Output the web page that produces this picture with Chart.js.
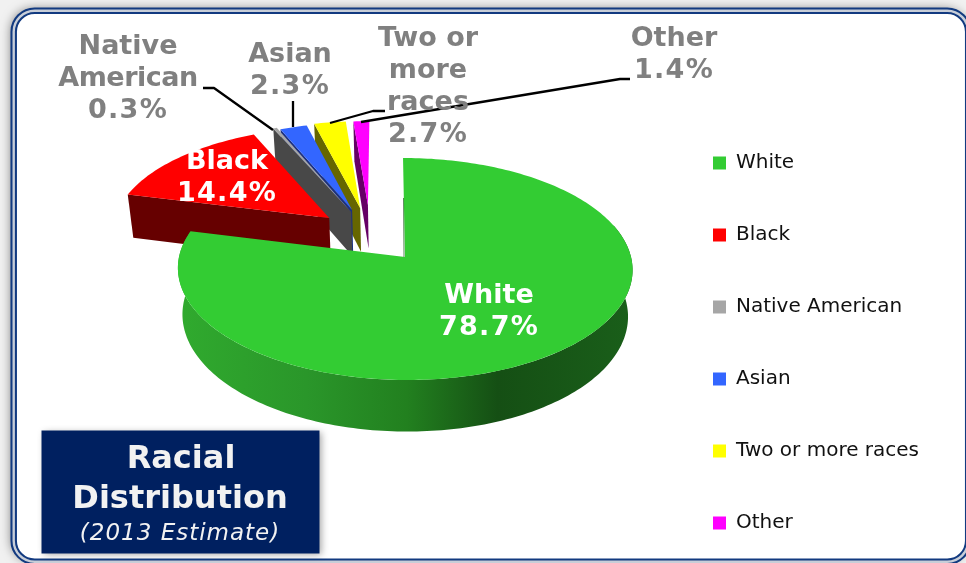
<!DOCTYPE html>
<html>
<head>
<meta charset="utf-8">
<style>html,body{margin:0;padding:0;background:#fff;overflow:hidden}canvas{display:block}</style>
<script src="https://cdn.jsdelivr.net/npm/chart.js@4"></script>
</head>
<body>
<div style="width:966px;height:563px"><canvas id="c" width="966" height="563"></canvas></div>
<script>
const categories = ['White','Black','Native American','Asian','Two or more races','Other'];
const values = [78.7,14.4,0.3,2.3,2.7,1.4];
const titleLines = ['Racial','Distribution'];
const subtitle = '(2013 Estimate)';

const topColors  = ['#33cc33','#ff0000','#a6a6a6','#3366ff','#ffff00','#ff00ff'];
const wallColors = ['#1f7f1f','#660000','#484848','#1b2f80','#666600','#660066'];
const explodeU = [0,-0.345,-0.245,-0.241,-0.204,-0.168];
const explodeV = [0,-0.370,-0.429,-0.449,-0.469,-0.4996];
const radiusK  = [1,0.985,1.0,0.96,0.96,0.93];

const P = {cx:405,cy:257,rx:226,ry:109.7,k:0.108,depth:46,shear:0.02,shrink:0.98};
function project(U,V,low){
  const w = 1-P.k*V;
  let x = P.rx*U/w, y = P.ry*V/w;
  x += P.shear*y;
  if(low){ x*=P.shrink; y+=P.depth/w; }
  return [P.cx+x,P.cy+y];
}
function rimPts(i,a0,a1,low){
  const pts=[], n=Math.max(2,Math.ceil(Math.abs(a1-a0)/0.02));
  for(let j=0;j<=n;j++){
    const a=a0+(a1-a0)*j/n;
    pts.push(project(explodeU[i]+radiusK[i]*Math.cos(a),explodeV[i]+radiusK[i]*Math.sin(a),low));
  }
  return pts;
}
function poly(ctx,pts,fill){
  ctx.beginPath();
  pts.forEach((p,i)=>i?ctx.lineTo(p[0],p[1]):ctx.moveTo(p[0],p[1]));
  ctx.closePath();
  ctx.fillStyle=fill; ctx.fill();
}
function roundRectPath(ctx,x,y,w,h,r){ctx.beginPath();ctx.roundRect(x,y,w,h,r);}

const pie3d = {
  id:'pie3d',
  beforeDraw(chart){
    const ctx=chart.ctx;
    ctx.save();
    ctx.fillStyle='#f1f1f1';ctx.fillRect(0,0,966,563);
    ctx.shadowColor='rgba(0,0,0,0.55)';ctx.shadowBlur=11;ctx.shadowOffsetX=-2;ctx.shadowOffsetY=-1;
    roundRectPath(ctx,13.7,10.7,954.5,551,21);ctx.fillStyle='#fff';ctx.fill();
    ctx.shadowColor='transparent';
    ctx.strokeStyle='#123a80';ctx.lineWidth=6.5;ctx.stroke();
    ctx.strokeStyle='#c8ced8';ctx.lineWidth=2.4;ctx.stroke();
    ctx.restore();
  },
  afterLayout(chart){
    const l=chart.legend;
    const pad=l.options.labels.padding;
    l.left=713-pad;l.right=l.left+l.width;
    l.top=153-pad;l.bottom=900;
    l.height=l.bottom-l.top;
  },
  beforeDatasetsDraw(chart){
    const ctx=chart.ctx, arcs=chart.getDatasetMeta(0).data;
    ctx.save();
    for(let i=arcs.length-1;i>=1;i--){
      const a=arcs[i], apexT=project(explodeU[i],explodeV[i],false), apexB=project(explodeU[i],explodeV[i],true);
      const rimT=rimPts(i,a.startAngle,a.startAngle,false)[0], rimB=rimPts(i,a.startAngle,a.startAngle,true)[0];
      poly(ctx,[apexT,rimT,rimB,apexB],wallColors[i]);
      poly(ctx,[apexT].concat(rimPts(i,a.startAngle,a.endAngle,false)),topColors[i]);
    }
    const w=arcs[0];
    const top=rimPts(0,-0.3,w.endAngle,false), low=rimPts(0,-0.3,w.endAngle,true);
    const grad=ctx.createLinearGradient(180,0,634,0);
    grad.addColorStop(0,'#30aa2e');grad.addColorStop(0.28,'#2a962a');grad.addColorStop(0.5,'#22801f');
    grad.addColorStop(0.70,'#154f14');grad.addColorStop(1,'#1a5f1a');
    poly(ctx,top.concat(low.reverse()),grad);
    const apex=project(0,0,false);
    poly(ctx,[apex].concat(rimPts(0,w.startAngle,w.endAngle,false)),topColors[0]);
    ctx.strokeStyle='rgba(25,90,25,0.7)';ctx.lineWidth=1;
    ctx.beginPath();ctx.moveTo(apex[0]-1,apex[1]);
    const t=rimPts(0,w.startAngle,w.startAngle,false)[0];
    ctx.lineTo(t[0]+0.5,t[1]+40);ctx.stroke();
    ctx.restore();
    return false;
  },
  afterDraw(chart){
    const ctx=chart.ctx;
    ctx.save();
    // leader lines
    ctx.strokeStyle='#000';ctx.lineWidth=2.3;ctx.lineJoin='round';
    [[[203,88],[214,88],[273,130]],[[293,101],[293,127]],[[330,123],[373,111],[385,111]],[[361,122],[620,79],[630,79]]].forEach(l=>{
      ctx.beginPath();l.forEach((p,i)=>i?ctx.lineTo(p[0],p[1]):ctx.moveTo(p[0],p[1]));ctx.stroke();
    });
    // data labels
    ctx.textAlign='center';ctx.textBaseline='middle';
    ctx.font='bold 27px "DejaVu Sans"';
    const pct=i=>values[i].toFixed(1)+'%';
    const text=(lines,x,ys,color)=>{
      ctx.fillStyle=color;
      lines.forEach((s,j)=>{
        ctx.letterSpacing = s.endsWith('%') ? '1.3px' : (s==='American' ? '-0.5px' : '0px');
        ctx.fillText(s,x,ys+j*32);
      });
      ctx.letterSpacing='0px';
    };
    text(['Native','American',pct(2)],128,47,'#808080');
    text([categories[3],pct(3)],290,55,'#808080');
    text(['Two or','more','races',pct(4)],428,39,'#808080');
    text([categories[5],pct(5)],674,39,'#808080');
    text([categories[1],pct(1)],227,162,'#fff');
    text([categories[0],pct(0)],489,296,'#fff');
    // title box
    ctx.shadowColor='rgba(0,0,0,0.35)';ctx.shadowBlur=7;ctx.shadowOffsetX=2;ctx.shadowOffsetY=1;
    ctx.fillStyle='#002060';ctx.fillRect(41.5,430.5,278,123);
    ctx.shadowColor='transparent';ctx.shadowBlur=0;ctx.shadowOffsetX=0;ctx.shadowOffsetY=0;
    ctx.fillStyle='#f2f2f2';
    ctx.font='bold 32px "DejaVu Sans"';
    ctx.fillText(titleLines[0],181,460);
    ctx.fillText(titleLines[1],180,500);
    ctx.font='italic 23px "DejaVu Sans"';
    ctx.letterSpacing='1px';
    ctx.fillText(subtitle,180,534);
    ctx.letterSpacing='0px';
    ctx.restore();
  }
};

new Chart(document.getElementById('c'),{
  type:'pie',
  data:{labels:categories,datasets:[{data:values,backgroundColor:topColors,borderWidth:0}]},
  options:{
    responsive:false,animation:false,events:[],
    layout:{padding:0},
    plugins:{
      tooltip:{enabled:false},title:{display:false},
      legend:{
        display:true,position:'right',align:'start',
        labels:{boxWidth:13,boxHeight:13,padding:52,color:'#111',
          font:{family:'"DejaVu Sans"',size:20,lineHeight:1.0}}
      }
    }
  },
  plugins:[pie3d]
});
</script>
</body>
</html>
